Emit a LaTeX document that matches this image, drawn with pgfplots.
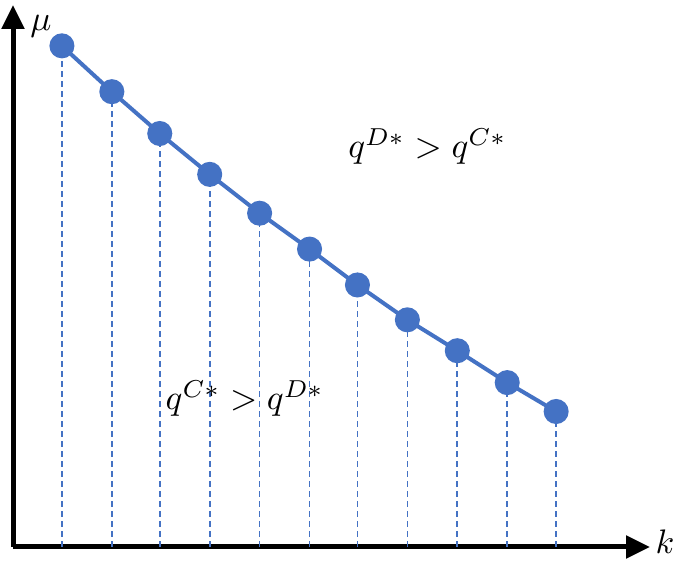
\documentclass[border=0pt]{standalone}
\usepackage{pgfplots}
\pgfplotsset{compat=1.18}
\usetikzlibrary{arrows.meta}
\definecolor{obl}{RGB}{68,114,196}
\begin{document}
\begin{tikzpicture}[x=1pt,y=1pt]
\path (0,0) rectangle (685,561);
\begin{axis}[
  at={(13pt,14pt)}, anchor=south west,
  scale only axis, width=637pt, height=542pt,
  xmin=13, xmax=651, ymin=0, ymax=544,
  axis x line=bottom, axis y line=left,
  axis line style={line width=5pt, -{Triangle[length=24pt,width=22pt]}},
  xtick=\empty, ytick=\empty,
  clip=false,
]
\addplot[ycomb, obl, line width=1.7pt, dash pattern=on 6pt off 4pt, mark=none] coordinates {
(62,503) (112,457) (160,415) (210,374) (260,335) (310,299) (358,263) (408,228) (458,197) (508,165) (557,136)};
\addplot[obl, line width=4pt, mark=*, mark size=10.5pt, mark options={fill=obl, draw=obl, solid}] coordinates {
(62,503) (112,457) (160,415) (210,374) (260,335) (310,299) (358,263) (408,228) (458,197) (508,165) (557,136)};
\node[scale=3.5, inner sep=0pt] at (axis cs:41,523) {$\mu$};
\node[scale=3.4, inner sep=0pt] at (axis cs:666,5) {$k$};
\node[scale=3.5, inner sep=0pt] at (axis cs:428,402) {$q^{D*} > q^{C*}$};
\node[scale=3.5, inner sep=0pt] at (axis cs:245,149) {$q^{C*} > q^{D*}$};
\end{axis}
\end{tikzpicture}
\end{document}
